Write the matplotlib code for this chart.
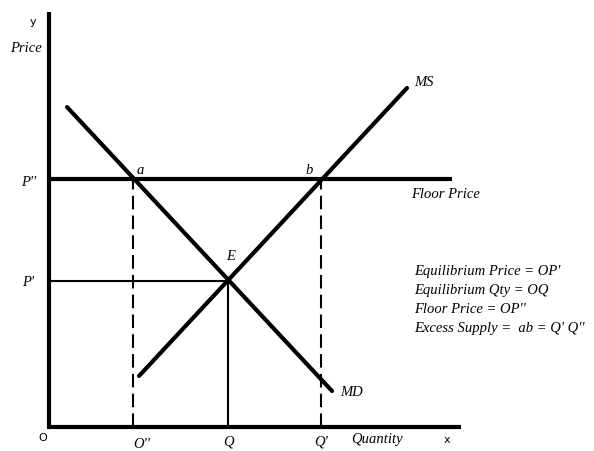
import matplotlib
matplotlib.use("Agg")
import matplotlib.pyplot as plt

# Data (chart units)
x_O2, x_Q, x_Q1 = 8.4, 17.9, 27.2
p_floor, p_eq = 24.8, 14.6
ms_x = [9.0, 35.8]
ms_y = [5.1, 33.9]
md_x = [1.8, 28.3]
md_y = [32.0, 3.6]
floor_end = 40.3
x_axis_end, y_axis_end = 41.2, 41.5
notes = ["Equilibrium Price = OP'", "Equilibrium Qty = OQ",
         "Floor Price = OP''", "Excess Supply =  ab = Q' Q''"]

W, H = 594, 451
fig = plt.figure(figsize=(W/100, H/100), dpi=100)
ax = fig.add_axes([0, 0, 1, 1])
# pixel -> data: x=(px-49)/10, y=(427-py)/10
ax.set_xlim((0-49)/10, (W-49)/10)
ax.set_ylim((427-H)/10, 427/10)
ax.axis('off')

k = dict(color='black', solid_capstyle='butt')
# axes
ax.plot([-0.2, x_axis_end], [0, 0], lw=3, **k)
ax.plot([0, 0], [-0.1, y_axis_end], lw=3, **k)
# floor price line
ax.plot([0, floor_end], [p_floor, p_floor], lw=3, **k)
# P' line and Q vertical
ax.plot([0, x_Q], [p_eq, p_eq], lw=1.5, **k)
ax.plot([x_Q, x_Q], [0, p_eq], lw=1.5, **k)
# dashed verticals
for xv in (x_O2, x_Q1):
    ax.plot([xv, xv], [0, p_floor], lw=1.5, color='black',
            linestyle=(0, (6.5, 3)))
# MS and MD
ax.plot(ms_x, ms_y, lw=3, color='black', solid_capstyle='round')
ax.plot(md_x, md_y, lw=3, color='black', solid_capstyle='round')

ser = dict(family='Liberation Serif', style='italic', fontsize=10.5, color='black')
sans = dict(family='DejaVu Sans', fontsize=8, color='black')

ax.text(-1.6, 40.5, 'y', ha='center', va='center', **sans)
ax.text(-2.3, 37.9, 'Price', ha='center', va='center', **ser)
ax.text(-2.0, 24.4, "P''", ha='center', va='center', **ser)
ax.text(-2.1, 14.4, "P'", ha='center', va='center', **ser)
ax.text(9.1, 25.7, 'a', ha='center', va='center', **ser)
ax.text(26.0, 25.7, 'b', ha='center', va='center', **ser)
ax.text(18.2, 17.1, 'E', ha='center', va='center', **ser)
ax.text(37.5, 34.4, 'MS', ha='center', va='center', **ser)
ax.text(30.3, 3.4, 'MD', ha='center', va='center', **ser)
ax.text(36.2, 23.2, 'Floor Price', ha='left', va='center', **ser)
for i, t in enumerate(notes):
    ax.text(36.5, 15.6 - i*1.93, t, ha='left', va='center', **ser)

ax.text(-0.6, -1.1, 'O', ha='center', va='center', **sans)
ax.text(x_O2 + 0.9, -1.75, "O''", ha='center', va='center', **ser)
ax.text(x_Q, -1.55, 'Q', ha='center', va='center', **ser)
ax.text(x_Q1, -1.55, "Q'", ha='center', va='center', **ser)
ax.text(32.8, -1.3, 'Quantity', ha='center', va='center', **ser)
ax.text(39.8, -1.3, 'x', ha='center', va='center', **sans)

fig.savefig('out.png', dpi=100)
